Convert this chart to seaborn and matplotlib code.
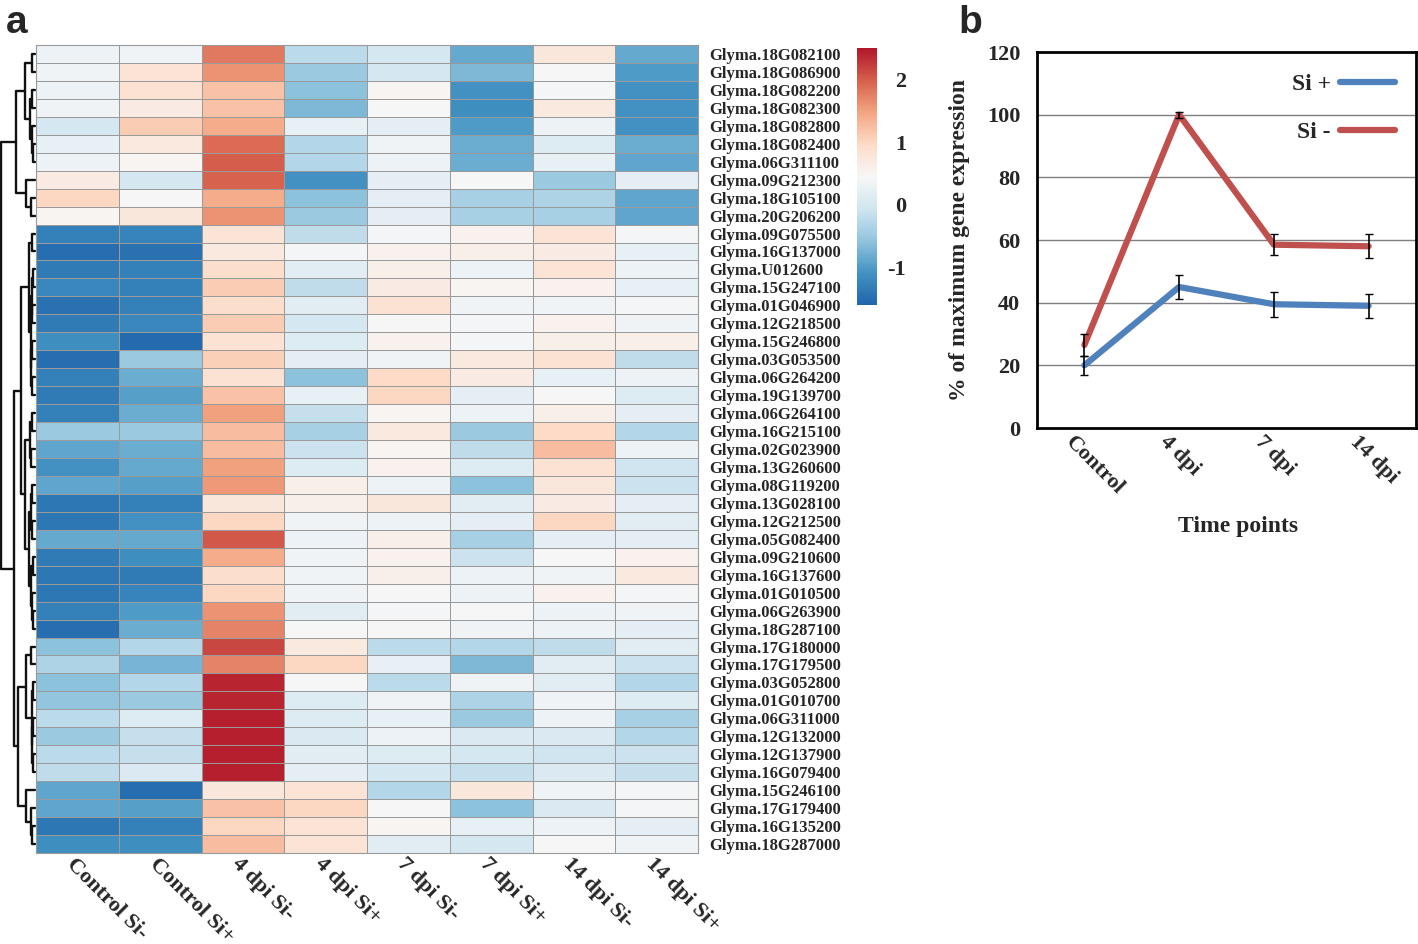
import numpy as np
import pandas as pd
import seaborn as sns
import matplotlib.pyplot as plt
from matplotlib.colors import ListedColormap
from matplotlib.transforms import ScaledTranslation

# ---- panel a: heatmap data (z-scores) ----
genes = ["Glyma.18G082100", "Glyma.18G086900", "Glyma.18G082200", "Glyma.18G082300",
         "Glyma.18G082800", "Glyma.18G082400", "Glyma.06G311100", "Glyma.09G212300",
         "Glyma.18G105100", "Glyma.20G206200", "Glyma.09G075500", "Glyma.16G137000",
         "Glyma.U012600", "Glyma.15G247100", "Glyma.01G046900", "Glyma.12G218500",
         "Glyma.15G246800", "Glyma.03G053500", "Glyma.06G264200", "Glyma.19G139700",
         "Glyma.06G264100", "Glyma.16G215100", "Glyma.02G023900", "Glyma.13G260600",
         "Glyma.08G119200", "Glyma.13G028100", "Glyma.12G212500", "Glyma.05G082400",
         "Glyma.09G210600", "Glyma.16G137600", "Glyma.01G010500", "Glyma.06G263900",
         "Glyma.18G287100", "Glyma.17G180000", "Glyma.17G179500", "Glyma.03G052800",
         "Glyma.01G010700", "Glyma.06G311000", "Glyma.12G132000", "Glyma.12G137900",
         "Glyma.16G079400", "Glyma.15G246100", "Glyma.17G179400", "Glyma.16G135200",
         "Glyma.18G287000"]
samples = ["Control Si-", "Control Si+", "4 dpi Si-", "4 dpi Si+",
           "7 dpi Si-", "7 dpi Si+", "14 dpi Si-", "14 dpi Si+"]

control_si_minus = [0.3, 0.35, 0.3, 0.35, 0.0, 0.25, 0.3, 0.65, 1.0, 0.5,
                    -1.3, -1.5, -1.35, -1.2, -1.45, -1.35, -1.15, -1.5, -1.3, -1.35,
                    -1.3, -0.5, -0.9, -1.1, -0.9, -1.4, -1.4, -0.85, -1.35, -1.4,
                    -1.4, -1.3, -1.5, -0.6, -0.35, -0.6, -0.55, -0.25, -0.5, -0.25,
                    -0.2, -0.9, -0.9, -1.4, -1.15]
control_si_plus = [0.35, 0.8, 0.85, 0.65, 1.1, 0.7, 0.5, 0.0, 0.45, 0.75,
                   -1.25, -1.45, -1.3, -1.3, -1.3, -1.2, -1.55, -0.5, -0.8, -0.95,
                   -0.8, -0.5, -0.8, -0.85, -0.95, -1.3, -1.1, -0.85, -1.15, -1.35,
                   -1.25, -1.0, -0.8, -0.3, -0.75, -0.3, -0.5, 0.1, -0.15, -0.15,
                   0.05, -1.5, -0.95, -1.3, -1.15]
dpi4_si_minus = [1.8, 1.6, 1.2, 1.2, 1.4, 1.9, 2.0, 1.95, 1.4, 1.6,
                 0.8, 0.7, 0.9, 1.1, 0.9, 1.1, 0.85, 1.05, 0.85, 1.2,
                 1.5, 1.25, 1.25, 1.5, 1.55, 0.75, 1.0, 2.05, 1.4, 0.9,
                 1.0, 1.6, 1.7, 2.15, 1.7, 2.4, 2.4, 2.45, 2.45, 2.45,
                 2.45, 0.75, 1.2, 1.0, 1.25]
dpi4_si_plus = [-0.25, -0.5, -0.6, -0.7, 0.25, -0.3, -0.3, -1.1, -0.6, -0.5,
                -0.2, 0.4, 0.15, -0.2, 0.15, 0.0, 0.1, 0.2, -0.6, 0.25,
                -0.15, -0.4, -0.1, 0.1, 0.6, 0.6, 0.35, 0.3, 0.35, 0.35,
                0.35, 0.15, 0.45, 0.7, 1.0, 0.45, 0.1, 0.1, 0.05, 0.15,
                0.2, 0.8, 1.0, 0.8, 0.8]
dpi7_si_minus = [0.0, 0.0, 0.5, 0.45, 0.2, 0.35, 0.3, 0.2, 0.2, 0.2,
                 0.4, 0.55, 0.6, 0.65, 0.85, 0.45, 0.55, 0.35, 0.95, 1.0,
                 0.5, 0.7, 0.5, 0.55, 0.3, 0.75, 0.3, 0.6, 0.55, 0.6,
                 0.45, 0.4, 0.45, -0.25, 0.25, -0.25, 0.35, 0.25, 0.3, 0.1,
                 0.0, -0.3, 0.45, 0.5, 0.15]
dpi7_si_plus = [-0.85, -0.7, -1.1, -1.15, -1.0, -0.8, -0.8, 0.45, -0.4, -0.4,
                0.55, 0.6, 0.3, 0.5, 0.35, 0.4, 0.4, 0.7, 0.65, 0.2,
                0.3, -0.5, -0.2, 0.1, -0.6, 0.15, 0.2, -0.4, -0.1, 0.3,
                0.3, 0.45, 0.35, -0.3, -0.7, 0.35, -0.35, -0.5, 0.05, 0.0,
                -0.15, 0.75, -0.6, 0.25, 0.0]
dpi14_si_minus = [0.75, 0.45, 0.4, 0.7, 0.3, 0.1, 0.25, -0.5, -0.35, -0.4,
                  0.8, 0.65, 0.8, 0.55, 0.35, 0.55, 0.6, 0.85, 0.25, 0.45,
                  0.6, 0.95, 1.25, 0.85, 0.75, 0.65, 1.0, 0.2, 0.45, 0.35,
                  0.55, 0.3, 0.3, -0.2, 0.15, 0.15, 0.35, 0.3, 0.05, -0.05,
                  0.05, 0.35, 0.05, 0.3, 0.45]
dpi14_si_plus = [-0.85, -1.0, -1.1, -1.1, -1.1, -0.8, -0.9, 0.2, -0.9, -0.9,
                 0.4, 0.25, 0.3, 0.25, 0.4, 0.35, 0.6, -0.2, 0.3, 0.1,
                 0.2, -0.3, 0.3, -0.05, -0.1, 0.2, 0.15, 0.2, 0.55, 0.7,
                 0.4, 0.35, 0.2, 0.15, -0.1, -0.3, 0.1, -0.4, -0.3, -0.1,
                 -0.15, 0.4, 0.4, 0.2, 0.35]

# row dendrogram: [left, right, merge height], leaves are row numbers
tree = [
    [[[0, 1, 3], [[2, 3, 2.5], [4, [5, 6, 1.5], 3], 5], 10],
     [7, [8, 9, 4], 9], 19],
    [[[[10, 11, 2.5], [[[12, 13, 2], [14, 15, 2.5], 3], [[16, 17, 2.5], [18, 19, 3], 3.5], 4], 5.5],
      [[[20, 21, 3], [22, 23, 3.5], 5],
       [[[24, 25, 2.5], [26, 27, 3], 4], [[28, 29, 2], [30, [31, 32, 1.5], 2.5], 3.5], 5.5], 10], 14],
     [[[33, 34, 3.5], [[35, 36, 2], [[37, 38, 2], [39, 40, 1.5], 2.5], 3], 9],
      [41, [42, [43, 44, 2.5], 3.5], 9], 17], 21],
    35]

# ---- panel b: line chart data ----
time_points = ["Control", "4 dpi", "7 dpi", "14 dpi"]
si_plus = [20, 45, 39.5, 39]
si_plus_err = [3, 3.7, 4, 3.8]
si_minus = [26.5, 100, 58.5, 58]
si_minus_err = [3.5, 1, 3.3, 3.8]


def draw_tree(ax, node):
    """Draws the dendrogram recursively, returns (row position, height)."""
    if isinstance(node, int):
        return node + 0.5, 0
    left, right, h = node
    y1, h1 = draw_tree(ax, left)
    y2, h2 = draw_tree(ax, right)
    ax.plot([h1, h, h, h2], [y1, y1, y2, y2], color="#111111", lw=1.7)
    return (y1 + y2) / 2, h


def slant_labels(ax, dx_px):
    """Rotate x tick labels down-right and nudge them left."""
    shift = ScaledTranslation(dx_px / 100, 0, ax.figure.dpi_scale_trans)
    for lab in ax.get_xticklabels():
        lab.set_rotation(-45)
        lab.set_ha("left")
        lab.set_va("center")
        lab.set_rotation_mode("anchor")
        lab.set_transform(lab.get_transform() + shift)


sns.set_style("white")
plt.rcParams["font.family"] = ["Liberation Serif", "DejaVu Serif"]
plt.rcParams["font.weight"] = "bold"
plt.rcParams["axes.unicode_minus"] = False

fig = plt.figure(figsize=(14.18, 9.44), dpi=100)
W, H = 1418, 944


def px(x0, y0, x1, y1):
    return [x0 / W, 1 - y1 / H, (x1 - x0) / W, (y1 - y0) / H]


ax_tree = fig.add_axes(px(0, 45, 36, 853))
ax_heat = fig.add_axes(px(36, 45, 698, 853))
ax_cbar = fig.add_axes(px(857, 48, 877, 305))
ax_line = fig.add_axes(px(1037, 52, 1416, 428))

# heatmap
df = pd.DataFrame({
    samples[0]: control_si_minus, samples[1]: control_si_plus,
    samples[2]: dpi4_si_minus, samples[3]: dpi4_si_plus,
    samples[4]: dpi7_si_minus, samples[5]: dpi7_si_plus,
    samples[6]: dpi14_si_minus, samples[7]: dpi14_si_plus,
}, index=genes)

cmap = ListedColormap(plt.get_cmap("RdBu_r")(np.linspace(0.1, 0.9, 256)))
sns.heatmap(df, ax=ax_heat, cmap=cmap, vmin=-1.6, vmax=2.5,
            linewidths=0.6, linecolor="#9a9a9a", cbar_ax=ax_cbar)
ax_heat.yaxis.tick_right()
ax_heat.tick_params(axis="y", length=0, pad=8, labelsize=12, labelrotation=0)
ax_heat.tick_params(axis="x", length=0, pad=6, labelsize=16)
slant_labels(ax_heat, -8)
for s in ax_heat.spines.values():
    s.set_visible(True)
    s.set_color("#9a9a9a")
    s.set_linewidth(0.8)

cbar = ax_heat.collections[0].colorbar
cbar.outline.set_visible(False)
cbar.set_ticks([-1, 0, 1, 2])
cbar.ax.tick_params(length=0, pad=21, labelsize=16)
for lab in cbar.ax.get_yticklabels():
    lab.set_ha("right")

# dendrogram
draw_tree(ax_tree, tree)
ax_tree.set_xlim(36, -1.5)
ax_tree.set_ylim(len(genes), 0)
ax_tree.axis("off")

# line chart
long = pd.DataFrame({
    "time": time_points * 2,
    "value": si_plus + si_minus,
    "treatment": ["Si +"] * 4 + ["Si -"] * 4,
})
sns.lineplot(data=long, x="time", y="value", hue="treatment", ax=ax_line,
             palette={"Si +": "#4f81bd", "Si -": "#c0504d"}, linewidth=4.5, sort=False)
ax_line.errorbar(time_points, si_plus, yerr=si_plus_err, fmt="none",
                 ecolor="black", elinewidth=1.2, capsize=3, zorder=5)
ax_line.errorbar(time_points, si_minus, yerr=si_minus_err, fmt="none",
                 ecolor="black", elinewidth=1.2, capsize=3, zorder=5)
ax_line.set_xlim(-0.5, 3.5)
ax_line.set_ylim(0, 120)
ax_line.set_yticks(range(0, 121, 20))
for yv in range(20, 101, 20):
    ax_line.axhline(yv, color="#7f7f7f", lw=1, zorder=0)
for s in ax_line.spines.values():
    s.set_visible(True)
    s.set_color("black")
    s.set_linewidth(2)
ax_line.tick_params(axis="y", length=0, pad=12, labelsize=16)
ax_line.tick_params(axis="x", length=0, pad=8, labelsize=16)
slant_labels(ax_line, -16)
ax_line.set_xlabel("Time points", fontsize=17, fontweight="bold")
ax_line.xaxis.set_label_coords(0.53, -0.235)
ax_line.set_ylabel("% of maximum gene expression", fontsize=17, fontweight="bold", labelpad=12)
ax_line.legend(loc="upper right", frameon=False, markerfirst=False,
               handlelength=2.3, handletextpad=0.4, labelspacing=1.15,
               bbox_to_anchor=(1.0, 1.0), prop={"weight": "bold", "size": 17})

# panel letters
fig.text(0.004, 0.995, "a", fontsize=28, fontweight="bold", va="top", family="Liberation Sans")
fig.text(0.676, 0.995, "b", fontsize=28, fontweight="bold", va="top", family="Liberation Sans")

fig.savefig("out.png", dpi=100, facecolor="white")
